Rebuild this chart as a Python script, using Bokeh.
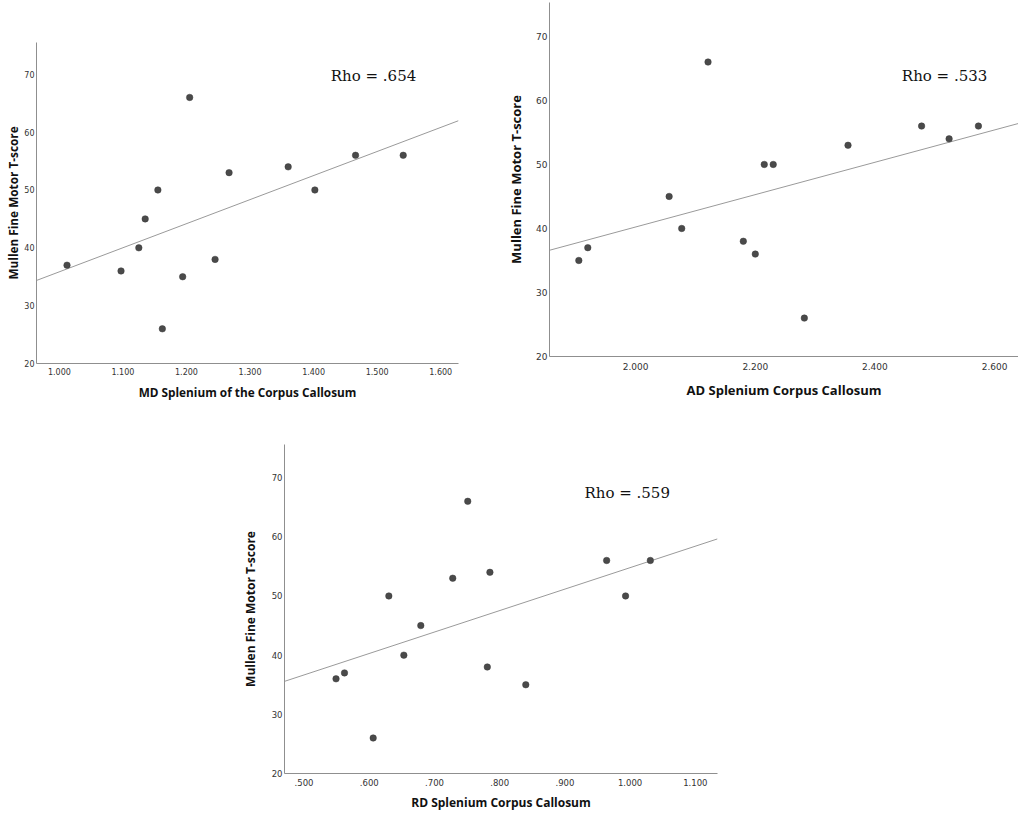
import numpy as np
from bokeh.plotting import figure
from bokeh.layouts import row, column
from bokeh.models import FixedTicker, CustomJSTickFormatter, Range1d, Label, Spacer
from bokeh.embed import file_html
from bokeh.resources import INLINE

# ---------------- data ----------------
y_title = "Mullen Fine Motor T-score"
y_ticks = [20, 30, 40, 50, 60, 70]

md_title = "MD Splenium of the Corpus Callosum"
md_x = [1.012, 1.097, 1.125, 1.135, 1.155, 1.162, 1.194, 1.205, 1.245, 1.267, 1.360, 1.402, 1.466, 1.541]
md_y = [37, 36, 40, 45, 50, 26, 35, 66, 38, 53, 54, 50, 56, 56]
md_ticks = [1.0, 1.1, 1.2, 1.3, 1.4, 1.5, 1.6]
md_rho = "Rho = .654"

ad_title = "AD Splenium Corpus Callosum"
ad_x = [1.905, 1.920, 2.056, 2.077, 2.121, 2.180, 2.200, 2.215, 2.230, 2.282, 2.355, 2.478, 2.524, 2.573]
ad_y = [35, 37, 45, 40, 66, 38, 36, 50, 50, 26, 53, 56, 54, 56]
ad_ticks = [2.0, 2.2, 2.4, 2.6]
ad_rho = "Rho = .533"

rd_title = "RD Splenium Corpus Callosum"
rd_x = [0.549, 0.562, 0.606, 0.630, 0.653, 0.679, 0.728, 0.751, 0.781, 0.785, 0.840, 0.964, 0.993, 1.031]
rd_y = [36, 37, 26, 50, 40, 45, 53, 66, 38, 54, 35, 56, 50, 56]
rd_ticks = [0.5, 0.6, 0.7, 0.8, 0.9, 1.0, 1.1]
rd_rho = "Rho = .559"

FMT_CODE = "let s = tick.toFixed(3); if (s.startsWith('0.')) { s = s.slice(1); } return s;"


def panel(xs, ys, xticks, xtitle, rho, xr, yr, rho_xy, width, height,
          bl, br, bt, bb, tick_fs, lab_fs, x_tstd, x_std, y_tstd, y_std):
    p = figure(width=width, height=height, output_backend="svg", toolbar_location=None,
               x_range=Range1d(*xr), y_range=Range1d(*yr),
               min_border_left=bl, min_border_right=br, min_border_top=bt, min_border_bottom=bb)
    p.outline_line_color = None
    p.xgrid.grid_line_color = None
    p.ygrid.grid_line_color = None
    p.background_fill_color = "white"
    p.border_fill_color = "white"

    # regression line fitted to the data
    b1, b0 = np.polyfit(np.array(xs), np.array(ys), 1)
    lx = [xr[0], xr[1]]
    p.line(lx, [b0 + b1 * v for v in lx], line_color="#9a9a9a", line_width=1)

    p.scatter(xs, ys, size=6.5, fill_color="#4a4a4a", line_color="#3a3a3a", line_width=0.5)

    for ax in (p.xaxis[0], p.yaxis[0]):
        ax.axis_line_color = "#8f8f8f"
        ax.axis_line_width = 1
        ax.major_tick_line_color = None
        ax.minor_tick_line_color = None
        ax.major_tick_out = 0
        ax.major_tick_in = 0
        ax.minor_tick_out = 0
        ax.minor_tick_in = 0
        ax.major_label_text_font = "DejaVu Sans"
        ax.major_label_text_font_size = tick_fs
        ax.major_label_text_color = "#333333"
        ax.axis_label_text_font = "Open Sans"
        ax.axis_label_text_font_style = "bold"
        ax.axis_label_text_font_size = lab_fs
        ax.axis_label_text_color = "#111111"

    p.xaxis.ticker = FixedTicker(ticks=xticks)
    p.xaxis.formatter = CustomJSTickFormatter(code=FMT_CODE)
    p.xaxis.axis_label = xtitle
    p.xaxis.major_label_standoff = x_tstd
    p.xaxis.axis_label_standoff = x_std
    p.yaxis.ticker = FixedTicker(ticks=y_ticks)
    p.yaxis.axis_label = y_title
    p.yaxis.major_label_standoff = y_tstd
    p.yaxis.axis_label_standoff = y_std

    p.add_layout(Label(x=rho_xy[0], y=rho_xy[1], text=rho, text_font="DejaVu Serif",
                       text_font_size="15px", text_color="#111111",
                       text_baseline="alphabetic", text_align="left"))
    return p


# top-left panel: frame x 36..458, y 42..363
p1 = panel(md_x, md_y, md_ticks, md_title, md_rho,
           xr=(0.964, 1.628), yr=(20, 75.5), rho_xy=(1.427, 69.7),
           width=470, height=371, bl=36, br=12, bt=0, bb=50,
           tick_fs="8px", lab_fs="11.8px", x_tstd=4, x_std=6, y_tstd=2, y_std=0)

# top-right panel: frame x 549..1018, y 2..356
p2 = panel(ad_x, ad_y, ad_ticks, ad_title, ad_rho,
           xr=(1.856, 2.640), yr=(20, 75.3), rho_xy=(2.445, 63.8),
           width=548, height=404, bl=79, br=0, bt=0, bb=50,
           tick_fs="9px", lab_fs="13px", x_tstd=6, x_std=8, y_tstd=2, y_std=8)

# bottom panel: frame x 284..717, y 444..773
p3 = panel(rd_x, rd_y, rd_ticks, rd_title, rd_rho,
           xr=(0.470, 1.134), yr=(20, 75.6), rho_xy=(0.930, 67.4),
           width=491, height=400, bl=48, br=10, bt=31, bb=40,
           tick_fs="8.5px", lab_fs="12px", x_tstd=5, x_std=5, y_tstd=2, y_std=10)

layout = column(
    row(column(Spacer(width=470, height=42), p1, spacing=0),
        column(Spacer(width=548, height=2), p2, spacing=0),
        spacing=0),
    row(Spacer(width=236, height=400), p3, spacing=0),
    spacing=0)

open("out.html", "w").write(file_html(layout, INLINE))
